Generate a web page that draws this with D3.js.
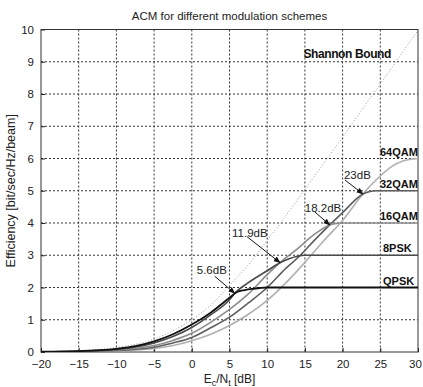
<!DOCTYPE html>
<html>
<head>
<meta charset="utf-8">
<script src="https://cdn.jsdelivr.net/npm/d3@7"></script>
<style>
  body { margin: 0; background: #fff; }
  text { font-family: "Liberation Sans", Arial, sans-serif; }
</style>
</head>
<body>
<svg id="chart"></svg>
<script>
// Values
const xTicks = [-20, -15, -10, -5, 0, 5, 10, 15, 20, 25, 30];
const yTicks = [0, 1, 2, 3, 4, 5, 6, 7, 8, 9, 10];

const shannonX = [-20, -15, -10, -5, -2.5, 0, 2.5, 5, 7.5, 10, 12.5, 15, 17.5, 20, 22.5, 25, 27.5, 30];
const shannonY = [0.01, 0.045, 0.14, 0.4, 0.66, 1.0, 1.45, 2.06, 2.7, 3.46, 4.23, 5.04, 5.85, 6.66, 7.49, 8.31, 9.14, 9.97];

const qpskX = [-20, -15, -10, -7.5, -5, -2.5, 0, 2.5, 5, 6, 7, 8, 9, 10, 30];
const qpskY = [0.01, 0.03, 0.1, 0.18, 0.33, 0.55, 0.85, 1.22, 1.68, 1.86, 1.92, 1.96, 1.985, 2.0, 2.0];

const psk8X = [-20, -15, -10, -5, -2.5, 0, 2.5, 5, 5.7, 7.5, 10, 11.7, 13, 14, 15, 30];
const psk8Y = [0.01, 0.025, 0.08, 0.28, 0.48, 0.76, 1.15, 1.62, 1.82, 2.15, 2.52, 2.77, 2.9, 2.97, 3.0, 3.0];

const qam16X = [-20, -15, -10, -5, -2.5, 0, 2.5, 5, 7.5, 10, 11.7, 14, 16, 18.3, 19, 20, 30];
const qam16Y = [0.005, 0.02, 0.06, 0.2, 0.36, 0.58, 0.92, 1.32, 1.8, 2.4, 2.77, 3.2, 3.6, 3.94, 3.98, 4.0, 4.0];

const qam32X = [-20, -15, -10, -5, -2.5, 0, 2.5, 5, 7.5, 10, 12.5, 14.4, 16, 18.3, 20, 22.7, 23.5, 24.5, 30];
const qam32Y = [0.005, 0.015, 0.045, 0.15, 0.28, 0.45, 0.75, 1.08, 1.52, 2.0, 2.6, 3.0, 3.4, 3.94, 4.32, 4.9, 4.97, 5.0, 5.0];

const qam64X = [-20, -15, -10, -5, -2.5, 0, 2.5, 5, 7.5, 10, 12.5, 15, 17.5, 20, 22.7, 24.5, 26.5, 28, 30];
const qam64Y = [0.003, 0.01, 0.035, 0.11, 0.2, 0.35, 0.55, 0.82, 1.17, 1.6, 2.15, 2.78, 3.45, 4.08, 4.9, 5.35, 5.75, 5.92, 6.0];

const curveNames = ["64QAM", "32QAM", "16QAM", "8PSK", "QPSK"];

// switching points (arrow tips) and their labels
const switchLabels = ["5.6dB", "11.9dB", "18.2dB", "23dB"];
const switchX = [5.7, 11.7, 18.3, 22.7];
const switchY = [1.82, 2.77, 3.94, 4.9];

// Set up dimensions and margins
const W = 423, H = 387;
const margin = {top: 29.5, right: 5, bottom: 35, left: 41};
const width = W - margin.left - margin.right,
      height = H - margin.top - margin.bottom;

const svg = d3.select("#chart")
    .attr("width", W)
    .attr("height", H);

const g = svg.append("g")
    .attr("transform", `translate(${margin.left},${margin.top})`);

const x = d3.scaleLinear().domain([-20, 30]).range([0, width]);
const y = d3.scaleLinear().domain([0, 10]).range([height, 0]);

// Grid
g.append("g").selectAll("line")
    .data(xTicks.slice(1, -1))
    .enter().append("line")
    .attr("x1", d => x(d)).attr("x2", d => x(d))
    .attr("y1", 0).attr("y2", height)
    .attr("stroke", "#333").attr("stroke-dasharray", "2,2");

g.append("g").selectAll("line")
    .data(yTicks.slice(1, -1))
    .enter().append("line")
    .attr("y1", d => y(d)).attr("y2", d => y(d))
    .attr("x1", 0).attr("x2", width)
    .attr("stroke", "#333").attr("stroke-dasharray", "2,2");

// Axes (MATLAB style: ticks inside)
const xAxis = g.append("g")
    .attr("transform", `translate(0,${height})`)
    .call(d3.axisBottom(x).tickValues(xTicks).tickSizeInner(-4).tickSizeOuter(0).tickPadding(8));
const yAxis = g.append("g")
    .call(d3.axisLeft(y).tickValues(yTicks).tickSizeInner(-4).tickSizeOuter(0).tickPadding(7));
[xAxis, yAxis].forEach(a => {
    a.select(".domain").remove();
    a.selectAll("text").attr("font-size", 11.5).attr("fill", "#222")
        .attr("font-family", "Liberation Sans, Arial, sans-serif");
    a.selectAll("line").attr("stroke", "#222");
});
// keep the last x label inside the window
xAxis.selectAll(".tick text").filter(d => d === 30).attr("dx", -3);

// Frame
g.append("rect")
    .attr("width", width).attr("height", height)
    .attr("fill", "none").attr("stroke", "#333").attr("stroke-width", 1);

// Curves
g.append("clipPath").attr("id", "clip")
    .append("rect").attr("width", width).attr("height", height);

const line = d3.line()
    .x(d => x(d[0]))
    .y(d => y(d[1]))
    .curve(d3.curveMonotoneX);

const zip = (xs, ys) => xs.map((v, i) => [v, ys[i]]);

const series = [
    {pts: zip(qam64X, qam64Y), color: "#b0b0b0", w: 1.6},
    {pts: zip(qam32X, qam32Y), color: "#5e5e5e", w: 1.6},
    {pts: zip(qam16X, qam16Y), color: "#8c8c8c", w: 1.6},
    {pts: zip(psk8X, psk8Y), color: "#4a4a4a", w: 1.6},
    {pts: zip(qpskX, qpskY), color: "#111", w: 1.8}
];

const plot = g.append("g").attr("clip-path", "url(#clip)");

plot.append("path")
    .datum(zip(shannonX, shannonY))
    .attr("d", line)
    .attr("fill", "none")
    .attr("stroke", "#999")
    .attr("stroke-width", 1)
    .attr("stroke-dasharray", "1,2");

plot.selectAll(".mod")
    .data(series)
    .enter().append("path")
    .attr("class", "mod")
    .attr("d", d => line(d.pts))
    .attr("fill", "none")
    .attr("stroke", d => d.color)
    .attr("stroke-width", d => d.w);

// Curve names at the right edge
const nameLevels = [6, 5, 4, 3, 2];
g.selectAll(".cname")
    .data(curveNames)
    .enter().append("text")
    .attr("class", "cname")
    .attr("x", (d, i) => i < 3 ? width - 38 : width - 35)
    .attr("y", (d, i) => y(nameLevels[i]) - 3)
    .attr("font-size", 11)
    .attr("font-weight", "bold")
    .attr("fill", "#111")
    .text(d => d);

g.append("text")
    .attr("x", x(14.8))
    .attr("y", y(9) - 3.5)
    .attr("font-size", 12)
    .attr("font-weight", "bold")
    .attr("textLength", 88)
    .attr("fill", "#111")
    .text("Shannon Bound");

// Switch-point annotations with arrows
svg.append("defs").append("marker")
    .attr("id", "arrow")
    .attr("viewBox", "0 0 10 10")
    .attr("refX", 9).attr("refY", 5)
    .attr("markerWidth", 7).attr("markerHeight", 7)
    .attr("markerUnits", "userSpaceOnUse")
    .attr("orient", "auto")
    .append("path").attr("d", "M0,1 L10,5 L0,9 z").attr("fill", "#111");

const arrowOffsets = [[-20, -17], [-33, -26], [-15, -13], [-18, -14]];
const textOffsets = [[-38, -19], [-48, -26], [-25, -13], [-19, -15]];

const ann = g.selectAll(".ann")
    .data(switchLabels)
    .enter().append("g").attr("class", "ann");

ann.append("line")
    .attr("x1", (d, i) => x(switchX[i]) + arrowOffsets[i][0])
    .attr("y1", (d, i) => y(switchY[i]) + arrowOffsets[i][1])
    .attr("x2", (d, i) => x(switchX[i]))
    .attr("y2", (d, i) => y(switchY[i]))
    .attr("stroke", "#111")
    .attr("stroke-width", 1)
    .attr("marker-end", "url(#arrow)");

ann.append("text")
    .attr("x", (d, i) => x(switchX[i]) + textOffsets[i][0])
    .attr("y", (d, i) => y(switchY[i]) + textOffsets[i][1])
    .attr("font-size", 11.5)
    .attr("fill", "#222")
    .text(d => d);

// Title and axis labels
svg.append("text")
    .attr("x", margin.left + width / 2)
    .attr("y", 20)
    .attr("text-anchor", "middle")
    .attr("font-size", 11.5)
    .attr("fill", "#222")
    .text("ACM for different modulation schemes");

const xl = svg.append("text")
    .attr("x", margin.left + width / 2)
    .attr("y", 383)
    .attr("text-anchor", "middle")
    .attr("font-size", 12)
    .attr("fill", "#222");
xl.append("tspan").text("E");
xl.append("tspan").attr("font-size", 9).attr("dy", 3).text("c");
xl.append("tspan").attr("dy", -3).text("/N");
xl.append("tspan").attr("font-size", 9).attr("dy", 3).text("t");
xl.append("tspan").attr("dy", -3).text(" [dB]");

svg.append("text")
    .attr("text-anchor", "middle")
    .attr("transform", `translate(15, ${margin.top + height / 2}) rotate(-90)`)
    .attr("font-size", 12.5)
    .attr("fill", "#222")
    .text("Efficiency [bit/sec/Hz/beam]");
</script>
</body>
</html>
